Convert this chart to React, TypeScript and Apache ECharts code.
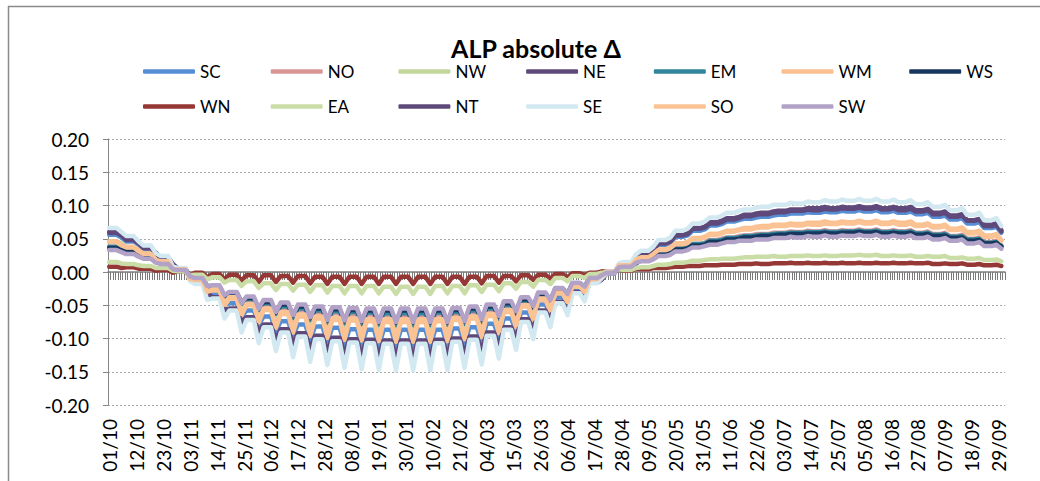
import React, { useEffect, useRef } from "react";
import * as echarts from "echarts";

// ---- categories: one per day, 01/10 .. (366 daily slots) ----
const START_DATE = Date.UTC(2010, 9, 1);
const N_DAYS = 366;
const DAYS: string[] = Array.from({ length: N_DAYS }, (_, i) => {
  const d = new Date(START_DATE + i * 86400000);
  const dd = String(d.getUTCDate()).padStart(2, "0");
  const mm = String(d.getUTCMonth() + 1).padStart(2, "0");
  return i === N_DAYS - 1 ? `${dd}/${mm} ` : `${dd}/${mm}`;
});

// ---- weekly readings: weekday level (WD) and weekend level (WE), week 0..52 ----
const SC_WD = [0.056,0.046,0.034,0.020,0.005,-0.015,-0.032,-0.047,-0.058,-0.067,
  -0.074,-0.079,-0.082,-0.084,-0.086,-0.087,-0.087,-0.087,-0.087,-0.087,
  -0.085,-0.083,-0.078,-0.070,-0.061,-0.049,-0.038,-0.026,-0.014,-0.002,
  0.013,0.027,0.041,0.053,0.062,0.070,0.076,0.080,0.083,0.086,
  0.088,0.089,0.090,0.091,0.091,0.090,0.089,0.087,0.083,0.079,
  0.073,0.066,0.059];
const SC_WE = [0.052,0.041,0.027,0.010,-0.007,-0.029,-0.050,-0.067,-0.079,-0.089,
  -0.096,-0.102,-0.105,-0.108,-0.110,-0.111,-0.111,-0.111,-0.111,-0.111,
  -0.108,-0.105,-0.098,-0.088,-0.077,-0.062,-0.049,-0.033,-0.009,0.007,
  0.020,0.031,0.043,0.055,0.064,0.072,0.078,0.082,0.085,0.088,
  0.090,0.091,0.092,0.093,0.093,0.092,0.091,0.089,0.085,0.081,
  0.075,0.068,0.061];

const NO_WD = [0.038,0.031,0.023,0.014,0.003,-0.011,-0.024,-0.035,-0.043,-0.050,
  -0.055,-0.058,-0.061,-0.062,-0.064,-0.064,-0.065,-0.065,-0.065,-0.064,
  -0.063,-0.061,-0.058,-0.052,-0.045,-0.037,-0.028,-0.019,-0.010,-0.001,
  0.009,0.019,0.028,0.036,0.042,0.048,0.052,0.055,0.057,0.059,
  0.060,0.061,0.061,0.062,0.062,0.061,0.061,0.059,0.057,0.054,
  0.050,0.045,0.040];
const NO_WE = [0.035,0.027,0.017,0.006,-0.007,-0.023,-0.039,-0.052,-0.061,-0.068,
  -0.074,-0.077,-0.081,-0.082,-0.084,-0.084,-0.085,-0.085,-0.085,-0.084,
  -0.083,-0.080,-0.075,-0.067,-0.058,-0.048,-0.037,-0.025,-0.006,0.007,
  0.015,0.022,0.030,0.038,0.044,0.050,0.054,0.057,0.059,0.061,
  0.062,0.063,0.063,0.064,0.064,0.063,0.063,0.061,0.059,0.056,
  0.052,0.047,0.042];

const NW_WD = [0.046,0.037,0.028,0.017,0.004,-0.012,-0.027,-0.039,-0.049,-0.056,
  -0.062,-0.066,-0.069,-0.071,-0.072,-0.073,-0.073,-0.073,-0.073,-0.073,
  -0.071,-0.069,-0.065,-0.059,-0.051,-0.041,-0.032,-0.022,-0.012,-0.001,
  0.010,0.022,0.033,0.043,0.050,0.057,0.061,0.065,0.068,0.070,
  0.071,0.072,0.073,0.074,0.074,0.073,0.072,0.070,0.068,0.064,
  0.059,0.054,0.048];
const NW_WE = [0.043,0.033,0.022,0.009,-0.006,-0.024,-0.042,-0.056,-0.067,-0.074,
  -0.081,-0.085,-0.089,-0.091,-0.092,-0.093,-0.093,-0.093,-0.093,-0.093,
  -0.091,-0.088,-0.082,-0.074,-0.064,-0.052,-0.041,-0.028,-0.008,0.007,
  0.016,0.025,0.035,0.045,0.052,0.059,0.063,0.067,0.070,0.072,
  0.073,0.074,0.075,0.076,0.076,0.075,0.074,0.072,0.070,0.066,
  0.061,0.056,0.050];

const NE_WD = [0.060,0.049,0.036,0.022,0.005,-0.017,-0.038,-0.056,-0.069,-0.080,
  -0.087,-0.093,-0.097,-0.100,-0.102,-0.103,-0.104,-0.104,-0.104,-0.103,
  -0.101,-0.098,-0.092,-0.084,-0.072,-0.059,-0.045,-0.031,-0.016,-0.002,
  0.014,0.029,0.044,0.056,0.066,0.075,0.081,0.086,0.089,0.092,
  0.094,0.096,0.096,0.097,0.097,0.096,0.096,0.093,0.089,0.085,
  0.078,0.071,0.063];
const NE_WE = [0.056,0.044,0.029,0.012,-0.007,-0.031,-0.056,-0.076,-0.090,-0.102,
  -0.109,-0.116,-0.120,-0.124,-0.126,-0.127,-0.128,-0.128,-0.128,-0.127,
  -0.124,-0.120,-0.112,-0.102,-0.088,-0.072,-0.056,-0.038,-0.011,0.007,
  0.021,0.033,0.046,0.058,0.068,0.077,0.083,0.088,0.091,0.094,
  0.096,0.098,0.098,0.099,0.099,0.098,0.098,0.095,0.091,0.087,
  0.080,0.073,0.065];

const EM_WD = [0.038,0.031,0.023,0.014,0.003,-0.010,-0.023,-0.033,-0.041,-0.047,
  -0.052,-0.055,-0.058,-0.059,-0.060,-0.061,-0.062,-0.062,-0.062,-0.061,
  -0.060,-0.058,-0.055,-0.050,-0.043,-0.035,-0.027,-0.018,-0.010,-0.001,
  0.009,0.018,0.027,0.035,0.042,0.047,0.051,0.054,0.056,0.058,
  0.059,0.060,0.060,0.061,0.061,0.060,0.060,0.058,0.056,0.053,
  0.049,0.044,0.039];
const EM_WE = [0.035,0.027,0.018,0.007,-0.006,-0.021,-0.037,-0.048,-0.057,-0.063,
  -0.069,-0.072,-0.076,-0.077,-0.078,-0.079,-0.080,-0.080,-0.080,-0.079,
  -0.078,-0.075,-0.070,-0.064,-0.055,-0.045,-0.035,-0.023,-0.006,0.006,
  0.014,0.021,0.029,0.036,0.043,0.048,0.052,0.055,0.057,0.059,
  0.060,0.061,0.061,0.062,0.062,0.061,0.061,0.059,0.057,0.054,
  0.050,0.045,0.040];

const WM_WD = [0.046,0.038,0.028,0.017,0.004,-0.012,-0.028,-0.040,-0.050,-0.057,
  -0.063,-0.067,-0.070,-0.072,-0.073,-0.074,-0.075,-0.075,-0.075,-0.074,
  -0.072,-0.070,-0.066,-0.060,-0.052,-0.042,-0.032,-0.022,-0.012,-0.001,
  0.011,0.022,0.034,0.043,0.051,0.057,0.062,0.066,0.069,0.071,
  0.072,0.074,0.074,0.075,0.075,0.074,0.074,0.071,0.069,0.065,
  0.060,0.055,0.048];
const WM_WE = [0.041,0.032,0.019,0.005,-0.011,-0.030,-0.051,-0.065,-0.076,-0.084,
  -0.091,-0.096,-0.099,-0.102,-0.103,-0.104,-0.105,-0.105,-0.105,-0.104,
  -0.101,-0.098,-0.092,-0.083,-0.072,-0.059,-0.046,-0.031,-0.006,0.010,
  0.020,0.027,0.037,0.045,0.053,0.059,0.064,0.068,0.071,0.073,
  0.074,0.076,0.076,0.077,0.077,0.076,0.076,0.073,0.071,0.067,
  0.062,0.057,0.050];

const WS_WD = [0.036,0.030,0.022,0.013,0.003,-0.010,-0.022,-0.031,-0.039,-0.045,
  -0.049,-0.052,-0.055,-0.056,-0.057,-0.058,-0.058,-0.058,-0.058,-0.058,
  -0.057,-0.055,-0.052,-0.047,-0.041,-0.033,-0.025,-0.017,-0.009,-0.001,
  0.008,0.018,0.026,0.034,0.040,0.045,0.049,0.052,0.054,0.056,
  0.057,0.058,0.058,0.059,0.059,0.058,0.058,0.056,0.054,0.051,
  0.047,0.043,0.038];
const WS_WE = [0.033,0.026,0.017,0.006,-0.006,-0.021,-0.036,-0.046,-0.055,-0.061,
  -0.066,-0.069,-0.073,-0.074,-0.075,-0.076,-0.076,-0.076,-0.076,-0.076,
  -0.075,-0.072,-0.067,-0.061,-0.053,-0.043,-0.033,-0.022,-0.005,0.006,
  0.013,0.021,0.028,0.035,0.041,0.046,0.050,0.053,0.055,0.057,
  0.058,0.059,0.059,0.060,0.060,0.059,0.059,0.057,0.055,0.052,
  0.048,0.044,0.039];

const WN_WD = [0.008,0.007,0.005,0.003,0.001,-0.001,-0.003,-0.004,-0.005,-0.005,
  -0.006,-0.006,-0.007,-0.007,-0.007,-0.007,-0.007,-0.007,-0.007,-0.007,
  -0.007,-0.007,-0.006,-0.006,-0.005,-0.004,-0.003,-0.002,-0.001,0.000,
  0.002,0.004,0.006,0.008,0.009,0.010,0.011,0.012,0.012,0.013,
  0.013,0.013,0.013,0.013,0.013,0.013,0.013,0.013,0.012,0.012,
  0.011,0.010,0.009];
const WN_WE = [0.006,0.005,0.002,-0.001,-0.005,-0.008,-0.011,-0.013,-0.015,-0.015,
  -0.016,-0.017,-0.018,-0.018,-0.018,-0.018,-0.018,-0.018,-0.018,-0.018,
  -0.018,-0.017,-0.016,-0.014,-0.012,-0.010,-0.008,-0.005,0.001,0.004,
  0.005,0.006,0.007,0.009,0.010,0.011,0.012,0.013,0.013,0.014,
  0.014,0.014,0.014,0.014,0.014,0.014,0.014,0.014,0.013,0.013,
  0.012,0.011,0.010];

const EA_WD = [0.015,0.012,0.009,0.006,0.001,-0.004,-0.008,-0.012,-0.014,-0.017,
  -0.018,-0.019,-0.020,-0.021,-0.021,-0.021,-0.022,-0.022,-0.022,-0.021,
  -0.021,-0.020,-0.019,-0.017,-0.015,-0.012,-0.009,-0.006,-0.003,0.000,
  0.003,0.007,0.011,0.014,0.017,0.019,0.020,0.022,0.023,0.023,
  0.024,0.024,0.024,0.025,0.025,0.024,0.024,0.023,0.023,0.021,
  0.020,0.018,0.016];
const EA_WE = [0.013,0.010,0.006,0.002,-0.005,-0.011,-0.016,-0.021,-0.024,-0.027,
  -0.028,-0.030,-0.031,-0.032,-0.032,-0.032,-0.033,-0.033,-0.033,-0.032,
  -0.032,-0.030,-0.029,-0.025,-0.022,-0.018,-0.014,-0.009,-0.001,0.004,
  0.006,0.009,0.012,0.015,0.018,0.020,0.021,0.023,0.024,0.024,
  0.025,0.025,0.025,0.026,0.026,0.025,0.025,0.024,0.024,0.022,
  0.021,0.019,0.017];

const NT_WD = [0.059,0.048,0.036,0.021,0.005,-0.017,-0.038,-0.055,-0.068,-0.079,
  -0.086,-0.092,-0.096,-0.099,-0.101,-0.102,-0.103,-0.103,-0.103,-0.102,
  -0.100,-0.097,-0.091,-0.083,-0.071,-0.058,-0.045,-0.030,-0.016,-0.002,
  0.013,0.028,0.043,0.055,0.065,0.073,0.079,0.084,0.087,0.090,
  0.092,0.093,0.094,0.095,0.095,0.094,0.093,0.091,0.087,0.083,
  0.077,0.069,0.061];
const NT_WE = [0.055,0.043,0.028,0.011,-0.008,-0.033,-0.058,-0.076,-0.091,-0.102,
  -0.110,-0.117,-0.121,-0.125,-0.127,-0.128,-0.129,-0.129,-0.129,-0.128,
  -0.125,-0.121,-0.113,-0.103,-0.088,-0.072,-0.057,-0.038,-0.011,0.008,
  0.021,0.032,0.046,0.057,0.067,0.075,0.081,0.086,0.089,0.092,
  0.094,0.095,0.096,0.097,0.097,0.096,0.095,0.093,0.089,0.085,
  0.079,0.071,0.063];

const SE_WD = [0.066,0.054,0.040,0.024,0.006,-0.018,-0.040,-0.058,-0.072,-0.083,
  -0.091,-0.097,-0.101,-0.104,-0.106,-0.107,-0.108,-0.108,-0.108,-0.107,
  -0.105,-0.102,-0.096,-0.087,-0.075,-0.061,-0.047,-0.032,-0.017,-0.002,
  0.015,0.032,0.048,0.062,0.073,0.082,0.089,0.094,0.098,0.101,
  0.103,0.105,0.106,0.107,0.107,0.106,0.105,0.102,0.098,0.093,
  0.086,0.078,0.069];
const SE_WE = [0.060,0.046,0.028,0.008,-0.014,-0.042,-0.070,-0.091,-0.107,-0.119,
  -0.128,-0.135,-0.140,-0.144,-0.146,-0.147,-0.148,-0.148,-0.148,-0.147,
  -0.144,-0.139,-0.130,-0.117,-0.101,-0.083,-0.065,-0.044,-0.009,0.013,
  0.027,0.038,0.052,0.065,0.076,0.085,0.092,0.097,0.101,0.104,
  0.106,0.108,0.109,0.110,0.110,0.109,0.108,0.105,0.101,0.096,
  0.089,0.081,0.072];

const SO_WD = [0.045,0.037,0.027,0.016,0.004,-0.012,-0.026,-0.038,-0.048,-0.055,
  -0.060,-0.064,-0.067,-0.069,-0.070,-0.071,-0.071,-0.071,-0.071,-0.071,
  -0.069,-0.067,-0.063,-0.057,-0.050,-0.040,-0.031,-0.021,-0.011,-0.001,
  0.010,0.022,0.033,0.042,0.050,0.056,0.061,0.064,0.067,0.069,
  0.070,0.071,0.072,0.073,0.073,0.072,0.071,0.069,0.067,0.063,
  0.058,0.053,0.047];
const SO_WE = [0.040,0.031,0.018,0.004,-0.011,-0.030,-0.049,-0.063,-0.074,-0.082,
  -0.088,-0.093,-0.096,-0.099,-0.100,-0.101,-0.101,-0.101,-0.101,-0.101,
  -0.098,-0.095,-0.089,-0.080,-0.070,-0.057,-0.045,-0.030,-0.005,0.010,
  0.019,0.027,0.036,0.044,0.052,0.058,0.063,0.066,0.069,0.071,
  0.072,0.073,0.074,0.075,0.075,0.074,0.073,0.071,0.069,0.065,
  0.060,0.055,0.049];

const SW_WD = [0.033,0.027,0.020,0.012,0.003,-0.009,-0.020,-0.030,-0.037,-0.042,
  -0.046,-0.049,-0.052,-0.053,-0.054,-0.055,-0.055,-0.055,-0.055,-0.055,
  -0.054,-0.052,-0.049,-0.044,-0.038,-0.031,-0.024,-0.016,-0.009,-0.001,
  0.008,0.016,0.024,0.031,0.037,0.041,0.045,0.047,0.049,0.051,
  0.052,0.053,0.053,0.054,0.054,0.053,0.053,0.051,0.049,0.047,
  0.043,0.039,0.035];
const SW_WE = [0.030,0.023,0.014,0.004,-0.007,-0.021,-0.035,-0.047,-0.055,-0.060,
  -0.065,-0.068,-0.072,-0.073,-0.074,-0.075,-0.075,-0.075,-0.075,-0.075,
  -0.074,-0.071,-0.066,-0.059,-0.051,-0.042,-0.033,-0.022,-0.005,0.007,
  0.014,0.019,0.026,0.033,0.039,0.043,0.047,0.049,0.051,0.053,
  0.054,0.055,0.055,0.056,0.056,0.055,0.055,0.053,0.051,0.049,
  0.045,0.041,0.037];

const SERIES_NAMES = ["SC","NO","NW","NE","EM","WM","WS","WN","EA","NT","SE","SO","SW"];
const SERIES_COLORS = ["#558ED5","#D99694","#C3D69B","#604A7B","#31859C","#FAC090","#17375E",
  "#953735","#CADDA6","#5F497A","#D3E9F2","#FBC293","#B3A2C7"];
const SERIES_WD = [SC_WD,NO_WD,NW_WD,NE_WD,EM_WD,WM_WD,WS_WD,WN_WD,EA_WD,NT_WD,SE_WD,SO_WD,SW_WD];
const SERIES_WE = [SC_WE,NO_WE,NW_WE,NE_WE,EM_WE,WM_WE,WS_WE,WN_WE,EA_WE,NT_WE,SE_WE,SO_WE,SW_WE];

const FONT = "Lato, 'Open Sans', sans-serif";

// Place weekly readings on their days (weekday level Mon..Thu, weekend trough Sat)
function toDaily(wd: number[], we: number[]): (number | null)[] {
  const out: (number | null)[] = new Array(N_DAYS).fill(null);
  wd.forEach((v, w) => {
    const a = 7 * w, b = 7 * w + 3, c = 7 * w + 5;
    if (a < N_DAYS) out[a] = v;
    if (b < N_DAYS) out[b] = v;
    if (c < N_DAYS) out[c] = we[w];
  });
  return out;
}

export default function App() {
  const ref = useRef<HTMLDivElement>(null);
  useEffect(() => {
    if (!ref.current) return;
    const chart = echarts.init(ref.current, undefined, { renderer: "svg" });
    const legends = SERIES_NAMES.map((n, i) => ({
      data: [n],
      left: 143 + (i % 7) * 127.7,
      top: i < 7 ? 63 : 98,
      icon: "roundRect",
      itemWidth: 52,
      itemHeight: 4.5,
      itemGap: 0,
      padding: 0,
      selectedMode: false,
      textStyle: { fontFamily: FONT, fontSize: 17, color: "#000" },
    }));
    chart.setOption({
      animation: false,
      backgroundColor: "#ffffff",
      title: {
        text: "ALP absolute Δ",
        left: 531,
        top: 30,
        textAlign: "center",
        textStyle: { fontFamily: FONT, fontWeight: "bold", fontSize: 25, color: "#000" },
      },
      legend: legends,
      grid: { left: 108, right: 35, top: 139, bottom: 76, containLabel: false },
      xAxis: [
        {
          type: "category",
          data: DAYS,
          boundaryGap: true,
          position: "bottom",
          axisLine: { show: false, onZero: false },
          axisTick: { show: false },
          splitLine: { show: false },
          axisLabel: {
            interval: 10,
            rotate: 90,
            margin: 14,
            padding: [8, 0, 0, 0],
            fontFamily: FONT,
            fontSize: 19,
            color: "#000",
          },
        },
        {
          type: "category",
          data: DAYS,
          boundaryGap: true,
          position: "bottom",
          axisLine: { show: true, onZero: true, lineStyle: { color: "#808080", width: 1.5 } },
          axisTick: { show: true, interval: 0, length: 8, lineStyle: { color: "#7a7a7a", width: 1 } },
          axisLabel: { show: false },
          splitLine: { show: false },
        },
      ],
      yAxis: {
        type: "value",
        min: -0.2,
        max: 0.2,
        interval: 0.05,
        axisLine: { show: true, lineStyle: { color: "#868686" } },
        axisTick: { show: true, length: 5, lineStyle: { color: "#868686" } },
        axisLabel: {
          margin: 19,
          fontFamily: FONT,
          fontSize: 19,
          color: "#000",
          formatter: (v: number) => (Math.abs(v) < 1e-9 ? "0.00" : v.toFixed(2)),
        },
        splitLine: { show: true, lineStyle: { color: "#a8a8a8", type: [2, 2], width: 1 } },
      },
      graphic: [
        { type: "line", shape: { x1: 8, y1: 6.5, x2: 1040, y2: 6.5 }, style: { stroke: "#8a8a8a", lineWidth: 1.5 } },
        { type: "line", shape: { x1: 8.5, y1: 6, x2: 8.5, y2: 481 }, style: { stroke: "#8a8a8a", lineWidth: 1.5 } },
      ],
      series: SERIES_NAMES.map((n, i) => ({
        type: "line",
        name: n,
        xAxisIndex: 0,
        data: toDaily(SERIES_WD[i], SERIES_WE[i]),
        connectNulls: true,
        showSymbol: false,
        symbol: "none",
        silent: true,
        lineStyle: { width: 4.5, color: SERIES_COLORS[i], cap: "round", join: "round" },
        itemStyle: { color: SERIES_COLORS[i] },
      })),
    });
    return () => chart.dispose();
  }, []);
  return (
    <div
      ref={ref}
      style={{ position: "absolute", left: 0, top: 0, width: 1040, height: 481, background: "#fff" }}
    />
  );
}
